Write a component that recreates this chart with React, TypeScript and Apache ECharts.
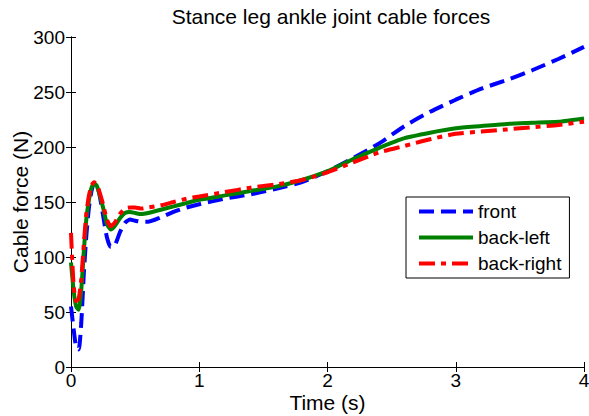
import React, { useEffect, useRef } from "react";
import * as echarts from "echarts";

const timeS = [0, 0.02, 0.04, 0.06, 0.08, 0.1, 0.12, 0.14, 0.16, 0.18, 0.2, 0.22, 0.25, 0.28, 0.31, 0.34, 0.38, 0.42, 0.46, 0.5, 0.55, 0.6, 0.7, 0.8, 0.9, 1.0, 1.2, 1.4, 1.6, 1.8, 2.0, 2.2, 2.4, 2.6, 2.8, 3.0, 3.2, 3.4, 3.6, 3.8, 4.0];
const front = [55, 35, 18, 16, 40, 85, 120, 145, 160, 167, 166, 158, 138, 118, 109, 110, 122, 131, 134, 133, 132, 132, 136, 141, 145, 148, 153, 157, 162, 168, 178, 190, 203, 219, 232, 243, 253, 261, 270, 280, 291];
const backLeft = [95, 70, 55, 52, 70, 105, 135, 152, 163, 167, 165, 158, 145, 130, 125, 128, 135, 140, 141, 140, 139, 140, 143, 146, 149, 152, 156, 160, 164, 170, 178, 189, 199, 208, 213, 217, 219, 221, 222, 223, 226];
const backRight = [122, 75, 60, 62, 80, 112, 140, 156, 165, 168, 166, 160, 148, 134, 128, 131, 139, 144, 145, 145, 144, 145, 147, 150, 153, 155, 159, 163, 166, 170, 177, 186, 195, 201, 207, 212, 214, 216, 218, 220, 223];
const seriesNames = ["front", "back-left", "back-right"];
const xTicks = [0, 1, 2, 3, 4];
const yTicks = [0, 50, 100, 150, 200, 250, 300];

const FONT = "Liberation Sans, Arial, Helvetica, sans-serif";

export default function App() {
  const ref = useRef<HTMLDivElement>(null);
  useEffect(() => {
    if (!ref.current) return;
    const chart = echarts.init(ref.current, null, { renderer: "svg" });
    const pair = (ys: number[]) => timeS.map((t, i) => [t, ys[i]]);
    const axisCommon = {
      axisLine: { show: true, lineStyle: { color: "#000", width: 1 } },
      axisTick: { show: true, inside: true, length: 5, lineStyle: { color: "#000" } },
      splitLine: { show: false },
    };
    const xMin = xTicks[0], xMax = xTicks[xTicks.length - 1];
    const yMin = yTicks[0], yMax = yTicks[yTicks.length - 1];
    chart.setOption({
      animation: false,
      backgroundColor: "#fff",
      title: {
        text: "Stance leg ankle joint cable forces",
        left: 326,
        textAlign: "center",
        top: 1,
        textStyle: { fontFamily: FONT, fontSize: 21, fontWeight: "normal", color: "#000" },
      },
      grid: { left: 71, right: 5, top: 37, bottom: 49, outerBoundsMode: "none", containLabel: false },
      legend: {
        orient: "vertical",
        left: 406,
        top: 197,
        data: seriesNames,
        itemWidth: 54,
        itemHeight: 14,
        itemGap: 7,
        padding: [5, 8, 5, 11],
        borderColor: "#000",
        borderWidth: 1,
        backgroundColor: "#fff",
        lineStyle: { width: "inherit" },
        itemStyle: { color: "rgba(0,0,0,0)", borderWidth: 0, opacity: 0 },
        textStyle: { fontFamily: FONT, fontSize: 19, color: "#000" },
      },
      xAxis: [
        {
          type: "value",
          min: xMin,
          max: xMax,
          interval: 1,
          name: "Time (s)",
          nameLocation: "middle",
          nameGap: 25,
          nameMoveOverlap: false,
          nameTextStyle: { fontFamily: FONT, fontSize: 21, color: "#000" },
          axisLabel: { fontFamily: FONT, fontSize: 19, color: "#000", margin: 4 },
          ...axisCommon,
        },
        {
          type: "value",
          position: "top",
          min: xMin,
          max: xMax,
          interval: 1,
          axisLabel: { show: false },
          ...axisCommon,
        },
      ],
      yAxis: [
        {
          type: "value",
          min: yMin,
          max: yMax,
          interval: 50,
          name: "Cable force (N)",
          nameLocation: "middle",
          nameGap: 40,
          nameMoveOverlap: false,
          nameTextStyle: { fontFamily: FONT, fontSize: 21, color: "#000" },
          axisLabel: { fontFamily: FONT, fontSize: 19, color: "#000", margin: 6 },
          ...axisCommon,
        },
        {
          type: "value",
          position: "right",
          min: yMin,
          max: yMax,
          interval: 50,
          axisLabel: { show: false },
          ...axisCommon,
        },
      ],
      series: [
        {
          name: seriesNames[0],
          type: "line",
          data: pair(front),
          symbol: "none",
          smooth: 0.2,
          color: "#0000ff",
          lineStyle: { color: "#0000ff", width: 4, type: [15, 7], cap: "butt" },
        },
        {
          name: seriesNames[1],
          type: "line",
          data: pair(backLeft),
          symbol: "none",
          smooth: 0.2,
          color: "#008000",
          lineStyle: { color: "#008000", width: 4, type: "solid" },
        },
        {
          name: seriesNames[2],
          type: "line",
          data: pair(backRight),
          symbol: "none",
          smooth: 0.2,
          color: "#ff0000",
          lineStyle: { color: "#ff0000", width: 4, type: [16, 6, 5, 6], cap: "butt" },
        },
      ],
    });
    return () => chart.dispose();
  }, []);
  return (
    <div
      ref={ref}
      style={{ position: "fixed", left: 0, top: 0, width: 589, height: 416, background: "#fff" }}
    />
  );
}
